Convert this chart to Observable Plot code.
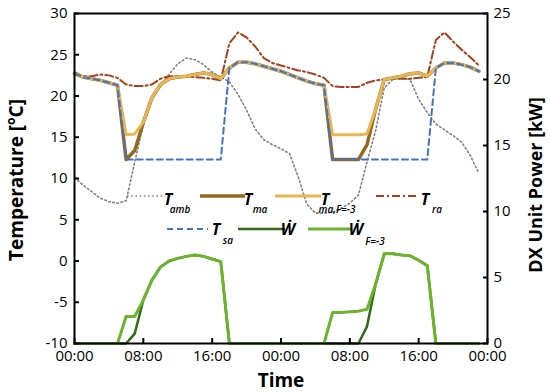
<!DOCTYPE html>
<html><head><meta charset="utf-8">
<script src="https://cdn.jsdelivr.net/npm/d3@7"></script>
<script src="https://cdn.jsdelivr.net/npm/@observablehq/plot@0.6"></script>
<style>
body{margin:0;background:#fff;}
#chart{position:relative;width:550px;height:392px;}
</style>
</head><body><div id="chart"></div>
<script>
// hour of simulation (two days)
const hours = [0,1,2,3,4,5,6,7,8,9,10,11,12,13,14,15,16,17,18,19,20,21,22,23,
               24,25,26,27,28,29,30,31,32,33,34,35,36,37,38,39,40,41,42,43,44,45,46,47];
// temperatures [°C]
const tAmb = [10.1,9.2,8.4,7.6,7.2,7.0,7.3,12.0,16.5,19.5,21.2,22.6,23.9,24.6,24.4,23.8,22.9,22.3,21.7,20.2,18.3,16.0,14.7,14.1,
              13.6,13.0,10.2,6.9,5.8,5.8,5.9,6.4,7.0,8.0,12.0,15.8,21.0,22.0,22.2,22.0,19.6,18.0,16.6,15.9,15.2,14.4,12.8,10.6];
const tSa  = [22.7,22.3,22.1,21.9,21.6,21.3,12.3,12.3,12.3,12.3,12.3,12.3,12.3,12.3,12.3,12.3,12.3,12.3,23.4,24.1,24.1,23.9,23.6,23.3,
              23.0,22.6,22.2,21.8,21.5,21.3,12.3,12.3,12.3,12.3,12.3,12.3,12.3,12.3,12.3,12.3,12.3,12.3,23.4,24.0,24.0,23.8,23.5,23.0];
const tMa  = [22.7,22.3,22.1,21.9,21.6,21.3,12.3,13.4,16.8,19.8,21.4,22.1,22.3,22.4,22.6,22.8,22.6,22.1,23.4,24.1,24.1,23.9,23.6,23.3,
              23.0,22.6,22.2,21.8,21.5,21.3,12.3,12.3,12.3,12.3,14.1,18.4,22.0,22.2,22.4,22.7,22.8,22.4,23.4,24.0,24.0,23.8,23.5,23.0];
const tMaF = [22.7,22.3,22.1,21.9,21.6,21.3,15.3,15.4,16.8,19.8,21.4,22.1,22.3,22.4,22.6,22.8,22.6,22.1,23.4,24.1,24.1,23.9,23.6,23.3,
              23.0,22.6,22.2,21.8,21.5,21.3,15.3,15.3,15.3,15.3,15.4,18.4,22.0,22.2,22.4,22.7,22.8,22.4,23.4,24.0,24.0,23.8,23.5,23.0];
const tRa  = [22.9,22.4,22.4,22.6,22.5,22.2,21.4,21.2,21.2,21.4,22.1,22.4,22.4,22.3,22.3,22.2,22.1,21.9,26.4,27.7,27.1,26.0,24.6,24.0,
              23.7,23.4,23.1,22.9,22.6,22.2,21.2,21.1,21.1,21.1,21.6,21.9,22.0,22.1,22.1,22.1,22.2,22.3,26.8,27.7,26.6,25.6,24.7,23.7];
// DX unit power [kW]
const wDx  = [0,0,0,0,0,0,0,0.75,3.3,4.8,5.8,6.25,6.45,6.6,6.7,6.6,6.4,6.2,0,0,0,0,0,0,
              0,0,0,0,0,0,0,0,0,0,1.3,4.5,6.8,6.8,6.7,6.65,6.3,5.9,0,0,0,0,0,0];
const wDxF = [0,0,0,0,0,0,2.05,2.05,3.3,4.8,5.8,6.25,6.45,6.6,6.7,6.6,6.4,6.2,0,0,0,0,0,0,
              0,0,0,0,0,0,2.35,2.35,2.4,2.45,2.6,4.5,6.8,6.8,6.7,6.65,6.3,5.9,0,0,0,0,0,0];

const xTicks = [0,8,16,24,32,40,48];
const tTicks = [-10,-5,0,5,10,15,20,25,30];
const kwTicks = [0,5,10,15,20,25];
const tMin = -10, tMax = 30, kwMax = 25;
const kwToT = v => tMin + v * (tMax - tMin) / kwMax;

const rows = hours.map((h, i) => ({h, tAmb: tAmb[i], tSa: tSa[i], tMa: tMa[i], tMaF: tMaF[i], tRa: tRa[i],
  w: kwToT(wDx[i]), wF: kwToT(wDxF[i])}));

const FONT = "Open Sans";
const C = {amb:"#808080", ma:"#94691f", maF:"#e6b653", ra:"#a3421c", sa:"#4472c4", w:"#2f6a16", wF:"#6cb42e"};

const plot = Plot.plot({
  width: 550, height: 392,
  marginLeft: 74, marginRight: 63, marginTop: 13, marginBottom: 49,
  style: {fontFamily: FONT, fontSize: "15px", background: "white", color: "black"},
  x: {domain: [0, 48]},
  y: {domain: [tMin, tMax]},
  marks: [
    Plot.lineY(rows, {x: "h", y: "tAmb", stroke: C.amb, strokeWidth: 1.6, strokeDasharray: "1.6,2.6"}),
    Plot.lineY(rows, {x: "h", y: "tRa", stroke: C.ra, strokeWidth: 2, strokeDasharray: "8,3,2,3"}),
    Plot.lineY(rows, {x: "h", y: "tMa", stroke: C.ma, strokeWidth: 3.5}),
    Plot.lineY(rows, {x: "h", y: "tMaF", stroke: C.maF, strokeWidth: 3}),
    Plot.lineY(rows, {x: "h", y: "tSa", stroke: C.sa, strokeWidth: 2, strokeDasharray: "6,4"}),
    Plot.lineY(rows, {x: "h", y: "w", stroke: C.w, strokeWidth: 2.5}),
    Plot.lineY(rows, {x: "h", y: "wF", stroke: C.wF, strokeWidth: 3}),
    Plot.frame({stroke: "black", strokeWidth: 2}),
    Plot.axisX({ticks: xTicks, tickFormat: h => String(h % 24).padStart(2, "0") + ":00",
      tickSize: -5, tickPadding: 12, label: null, fontSize: 15, strokeWidth: 2}),
    Plot.axisY({ticks: tTicks, tickFormat: d => String(d), anchor: "left",
      tickSize: -5, tickPadding: 12, label: null, fontSize: 15, strokeWidth: 2}),
    Plot.axisY({ticks: kwTicks.map(kwToT), tickFormat: d => String(Math.round((d - tMin) * kwMax / (tMax - tMin))),
      anchor: "right", tickSize: -5, tickPadding: 11, label: null, fontSize: 15, strokeWidth: 2})
  ]
});
document.getElementById("chart").appendChild(plot);

const svg = d3.select(plot);
// axis titles
const t1 = svg.append("text").attr("transform", "translate(23,180) rotate(-90)")
  .attr("text-anchor", "middle").attr("font-family", FONT).attr("font-weight", "bold").attr("font-size", 19).attr("fill", "black");
t1.append("tspan").text("Temperature [");
t1.append("tspan").text("o").attr("font-size", 12).attr("dy", -8);
t1.append("tspan").text("C]").attr("dy", 8);
svg.append("text").attr("transform", "translate(542,185) rotate(-90)")
  .attr("text-anchor", "middle").attr("font-family", FONT).attr("font-weight", "bold").attr("font-size", 18).attr("fill", "black")
  .text("DX Unit Power [kW]");
svg.append("text").attr("x", 281).attr("y", 387)
  .attr("text-anchor", "middle").attr("font-family", FONT).attr("font-weight", "bold").attr("font-size", 19).attr("fill", "black")
  .text("Time");

// legend
const legend = [
  {x0: 127, x1: 165, y: 196, stroke: C.amb, w: 1.6, dash: "1.6,2.6", sym: "T", sub: "amb", tx: 168, ty: 205, sx: 180, sy: 213},
  {x0: 200, x1: 245, y: 196, stroke: C.ma, w: 3.5, dash: null, sym: "T", sub: "ma", tx: 248, ty: 205, sx: 260, sy: 213},
  {x0: 275, x1: 321, y: 196, stroke: C.maF, w: 3, dash: null, sym: "T", sub: "ma,F=-3", tx: 325, ty: 205, sx: 337, sy: 213},
  {x0: 376, x1: 418, y: 196, stroke: C.ra, w: 2, dash: "8,3,2,3", sym: "T", sub: "ra", tx: 425, ty: 205, sx: 437, sy: 213},
  {x0: 167, x1: 208, y: 229, stroke: C.sa, w: 2, dash: "6,4", sym: "T", sub: "sa", tx: 216, ty: 235, sx: 228, sy: 244},
  {x0: 238, x1: 285, y: 229, stroke: C.w, w: 2.5, dash: null, sym: "\u1E86", sub: "", tx: 288, ty: 235, sx: 0, sy: 0},
  {x0: 308, x1: 352, y: 229, stroke: C.wF, w: 3, dash: null, sym: "\u1E86", sub: "F=-3", tx: 356, ty: 235, sx: 375, sy: 245}
];
const lg = svg.append("g").attr("font-family", FONT).attr("font-style", "italic").attr("font-weight", "bold").attr("fill", "black");
legend.forEach(e => {
  lg.append("line").attr("x1", e.x0).attr("x2", e.x1).attr("y1", e.y).attr("y2", e.y)
    .attr("stroke", e.stroke).attr("stroke-width", e.w).attr("stroke-dasharray", e.dash);
  lg.append("text").attr("x", e.tx).attr("y", e.ty).attr("font-size", 16).text(e.sym);
  if (e.sub) lg.append("text").attr("x", e.sx).attr("y", e.sy).attr("font-size", 10).attr("font-weight", "600").text(e.sub);
});
</script>
</body></html>
